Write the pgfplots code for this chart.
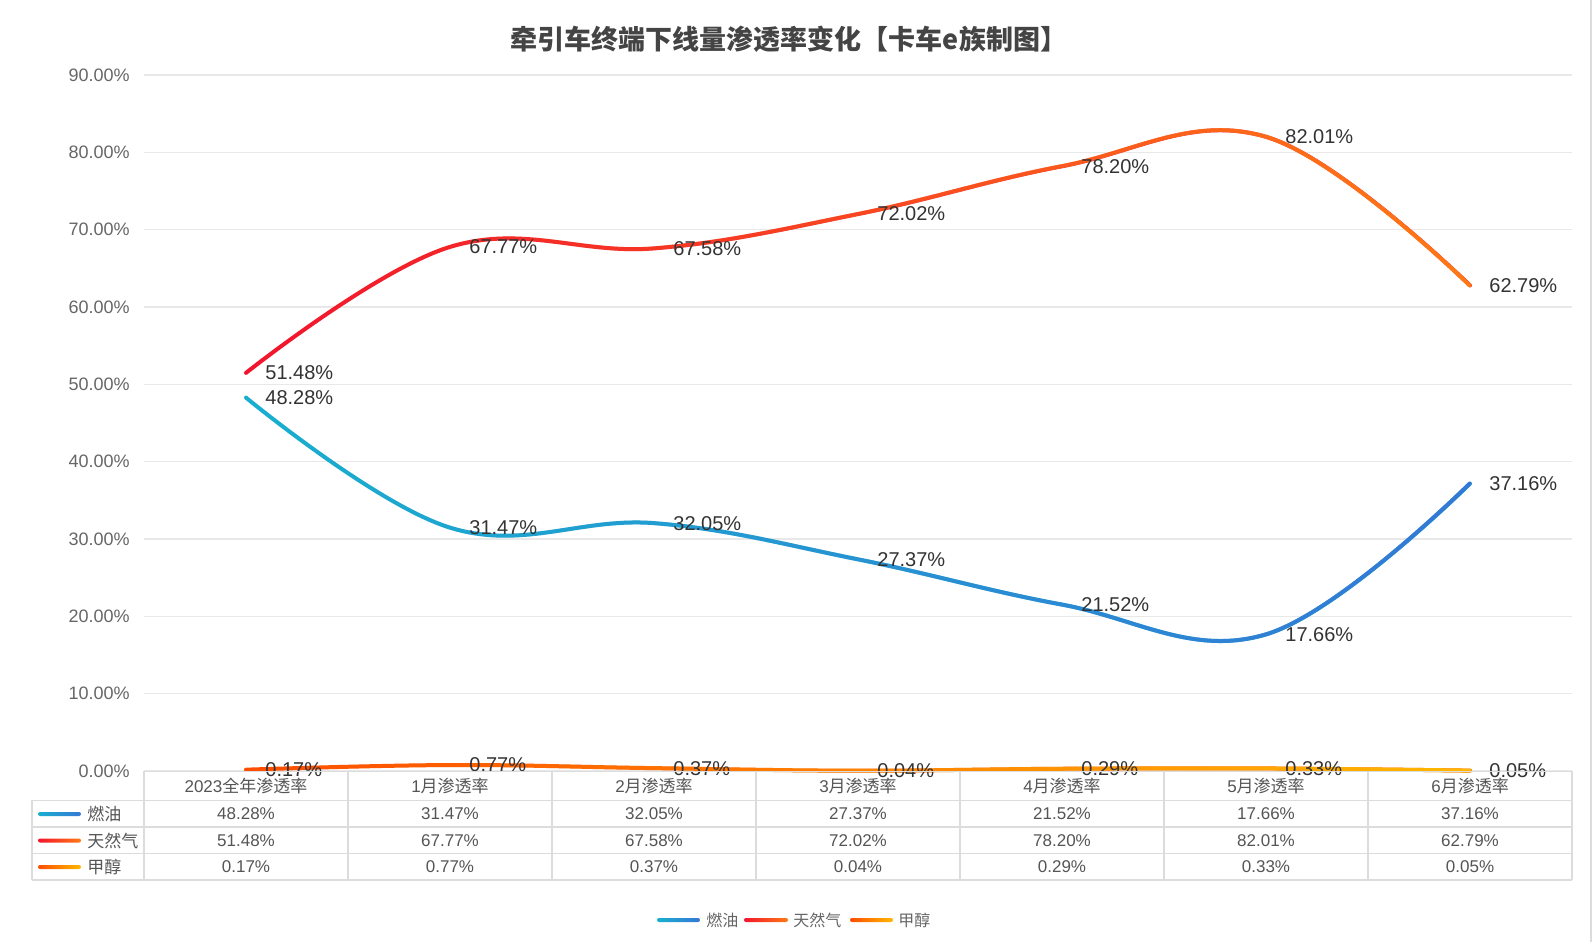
\documentclass[border=0pt]{standalone}
\usepackage{pgfplots}
\usepackage{pgfplotstable}
\pgfplotsset{compat=1.18}
\usepackage{fontspec}
\setmainfont{Liberation Sans}
\newfontfamily\cjk{Noto Sans CJK SC}
\usetikzlibrary{fadings}

\definecolor{oilA}{HTML}{19AFCF}
\definecolor{oilB}{HTML}{3578D6}
\definecolor{gasA}{HTML}{F2142E}
\definecolor{gasB}{HTML}{FF7A14}
\definecolor{metA}{HTML}{FF4D00}
\definecolor{metB}{HTML}{FFB800}
\definecolor{gridc}{HTML}{E8E8E8}
\definecolor{tickc}{HTML}{666666}
\definecolor{labc}{HTML}{333333}
\definecolor{tabline}{HTML}{DCDCDC}
\definecolor{tabtext}{HTML}{555555}
\definecolor{titlec}{HTML}{444444}

\tikzfading[name=fOil, left color=transparent!100, middle color=transparent!92, right color=transparent!0]
\tikzfading[name=fGas, left color=transparent!100, middle color=transparent!0, right color=transparent!0]
\tikzfading[name=fMet, left color=transparent!100, right color=transparent!0]

\pgfplotstableread{
x oil gas met
0 48.28 51.48 0.17
1 31.47 67.77 0.77
2 32.05 67.58 0.37
3 27.37 72.02 0.04
4 21.52 78.20 0.29
5 17.66 82.01 0.33
6 37.16 62.79 0.05
}\data

\begin{document}
\begin{tikzpicture}
\path[use as bounding box] (0,0) rectangle (797pt,471pt);
\begin{axis}[
  at={(72pt,85.5pt)}, anchor=south west,
  scale only axis, width=714pt, height=348pt,
  xmin=-0.5, xmax=6.5, ymin=0, ymax=90,
  xtick=\empty,
  ytick={0,10,...,90},
  /pgf/number format/assume math mode=true,
  yticklabel={\pgfmathprintnumber[fixed,fixed zerofill,precision=2]{\tick}\%},
  yticklabel style={font=\fontsize{9}{10}\selectfont, text=tickc, inner sep=0pt, xshift=-7pt},
  major tick length=0pt,
  ymajorgrids, grid style={gridc, line width=0.6pt},
  axis line style={draw=none},
  clip=false,
  lbl/.style={draw=none, mark=none, forget plot, point meta=y,
    nodes near coords={\pgfmathprintnumber[fixed,fixed zerofill,precision=2]{\pgfplotspointmeta}\%},
    nodes near coords align=horizontal,
    every node near coord/.append style={anchor=west, inner sep=0pt, xshift=9.5pt,
      font=\fontsize{10}{12}\selectfont, text=labc}},
  ln/.style={line width=2pt, smooth, tension=0.65, line cap=round, mark=none},
]
\addplot[ln, oilA] table[x=x,y=oil]{\data};
\addplot[ln, oilB, path fading=fOil, forget plot] table[x=x,y=oil]{\data};
\addplot[ln, gasA] table[x=x,y=gas]{\data};
\addplot[ln, gasB, path fading=fGas, forget plot] table[x=x,y=gas]{\data};
\addplot[ln, metA] table[x=x,y=met]{\data};
\addplot[ln, metB, path fading=fMet, forget plot] table[x=x,y=met]{\data};
\addplot[lbl] table[x=x,y=oil]{\data};
\addplot[lbl] table[x=x,y=gas]{\data};
\addplot[lbl] table[x=x,y=met]{\data};
\end{axis}

\node[font=\cjk\bfseries\fontsize{13.5}{16}\selectfont, text=titlec] at (394.5pt,451.5pt) {牵引车终端下线量渗透率变化【卡车e族制图】};

\begin{scope}[x=0.5pt,y=-0.5pt,yshift=471pt]
  % right border
  \draw[tabline, line width=0.6pt] (1591,0) -- (1591,942);
  % table grid
  \draw[tabline, line width=0.75pt] (144,771.5) -- (1572,771.5);
  \foreach \yy in {800.5,827,853.5,880} \draw[tabline, line width=0.75pt] (32,\yy) -- (1572,\yy);
  \draw[tabline, line width=0.75pt] (32,800.5) -- (32,880);
  \foreach \k in {0,...,7} \draw[tabline, line width=0.75pt] ({144+204*\k},771.5) -- ({144+204*\k},880);
  % headers
  \foreach \h [count=\i from 0] in {2023{\cjk 全年渗透率},1{\cjk 月渗透率},2{\cjk 月渗透率},3{\cjk 月渗透率},4{\cjk 月渗透率},5{\cjk 月渗透率},6{\cjk 月渗透率}}
    \node[font=\fontsize{8.5}{10}\selectfont, text=tabtext] at ({246+204*\i},786) {\h};
  % values
  \foreach \v [count=\i from 0] in {48.28,31.47,32.05,27.37,21.52,17.66,37.16}
    \node[font=\fontsize{8.5}{10}\selectfont, text=tabtext] at ({246+204*\i},814) {\v\%};
  \foreach \v [count=\i from 0] in {51.48,67.77,67.58,72.02,78.20,82.01,62.79}
    \node[font=\fontsize{8.5}{10}\selectfont, text=tabtext] at ({246+204*\i},840.5) {\v\%};
  \foreach \v [count=\i from 0] in {0.17,0.77,0.37,0.04,0.29,0.33,0.05}
    \node[font=\fontsize{8.5}{10}\selectfont, text=tabtext] at ({246+204*\i},867) {\v\%};
  % row keys
  \shade[left color=oilA, right color=oilB, rounded corners=1pt] (38,812) rectangle (81,816);
  \shade[left color=gasA, right color=gasB, rounded corners=1pt] (38,838.5) rectangle (81,842.5);
  \shade[left color=metA, right color=metB, rounded corners=1pt] (38,865) rectangle (81,869);
  \node[font=\cjk\fontsize{8.5}{10}\selectfont, text=tabtext, anchor=west, inner sep=0pt] at (87,814) {燃油};
  \node[font=\cjk\fontsize{8.5}{10}\selectfont, text=tabtext, anchor=west, inner sep=0pt] at (87,840.5) {天然气};
  \node[font=\cjk\fontsize{8.5}{10}\selectfont, text=tabtext, anchor=west, inner sep=0pt] at (87,867) {甲醇};
  % bottom legend
  \shade[left color=oilA, right color=oilB, rounded corners=1pt] (657,918) rectangle (700,922);
  \node[font=\cjk\fontsize{8}{10}\selectfont, text=tickc, anchor=west, inner sep=0pt] at (706,920) {燃油};
  \shade[left color=gasA, right color=gasB, rounded corners=1pt] (744,918) rectangle (788,922);
  \node[font=\cjk\fontsize{8}{10}\selectfont, text=tickc, anchor=west, inner sep=0pt] at (793,920) {天然气};
  \shade[left color=metA, right color=metB, rounded corners=1pt] (850,918) rectangle (893,922);
  \node[font=\cjk\fontsize{8}{10}\selectfont, text=tickc, anchor=west, inner sep=0pt] at (898,920) {甲醇};
\end{scope}
\end{tikzpicture}
\end{document}
